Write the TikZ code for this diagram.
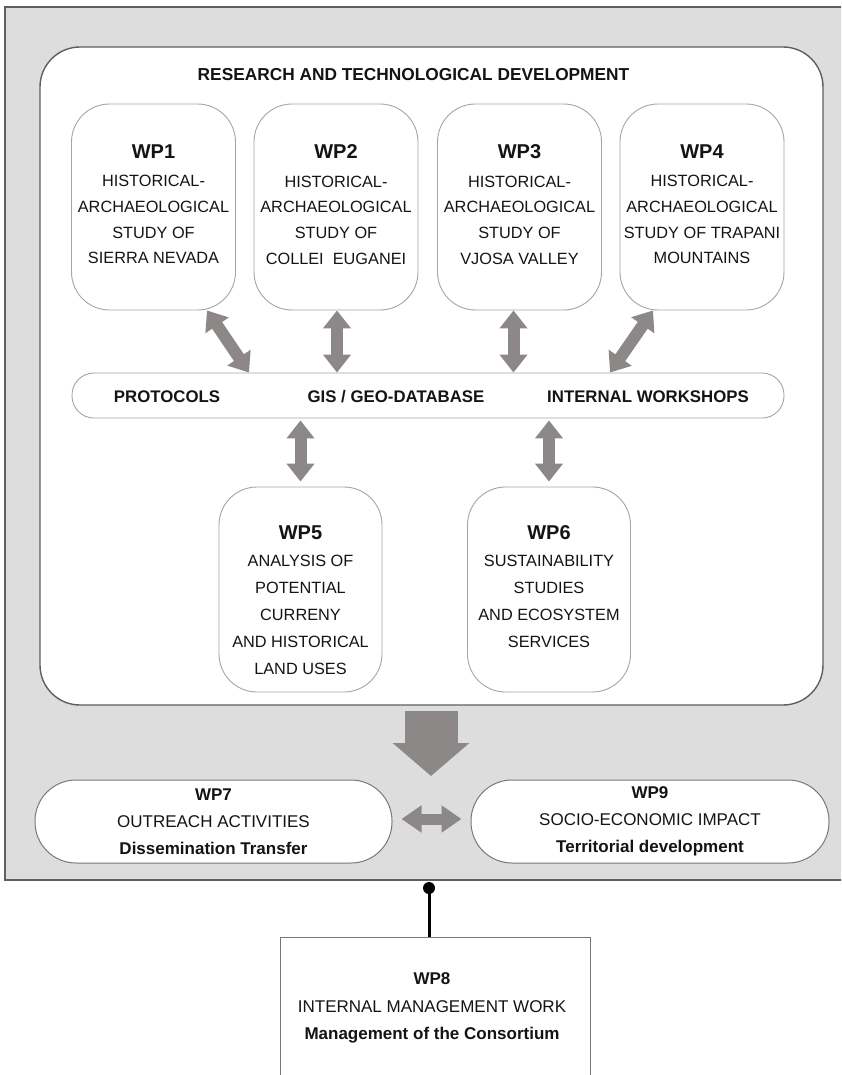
\documentclass[tikz,border=0pt]{standalone}
\usepackage{fontspec}
\setmainfont{Liberation Sans}
\usetikzlibrary{arrows.meta,calc}
\definecolor{panelgray}{RGB}{220,221,220}
\definecolor{framegray}{RGB}{95,95,95}
\definecolor{arrowgray}{RGB}{141,136,136}
\definecolor{boxline}{RGB}{165,165,165}
\definecolor{pillline}{RGB}{120,120,120}
\definecolor{inkblack}{RGB}{20,20,20}
\newcommand\wplabelfont{\fontsize{20}{26}\selectfont\bfseries}
\begin{document}
\begin{tikzpicture}[x=1pt,y=-1pt,
  wpbox/.style={draw=boxline, line width=0.9pt, fill=white, rounded corners=38pt,
    minimum width=164pt, inner sep=0pt},
  wptext/.style={align=center, inner sep=0pt, text=inkblack, anchor=north,
    font=\fontsize{16.3}{25.7}\selectfont},
  wptextlow/.style={wptext, font=\fontsize{16.3}{27}\selectfont},
  bartext/.style={inner sep=0pt, text=inkblack, font=\fontsize{16.8}{20}\selectfont\bfseries},
  pill/.style={draw=pillline, line width=1pt, fill=white, rounded corners=41pt,
    minimum width=357pt, minimum height=83pt, align=center, inner sep=0pt,
    text=inkblack, font=\fontsize{17}{27}\selectfont},
  fat/.style={draw=arrowgray, line width=12pt,
    {Triangle[length=18pt,width=27pt]}-{Triangle[length=18pt,width=27pt]}},
]
\useasboundingbox (0,0) rectangle (841,1075);
\clip (0,0) rectangle (841,1075);

% grey project panel
\path[fill=panelgray, draw=framegray, line width=1.5pt] (5,7) rectangle (870,880);

% research block
\node[draw=framegray, line width=1.4pt, fill=white, rounded corners=40pt,
  minimum width=783pt, minimum height=658pt, inner sep=0pt] (rtd) at (431.5,376) {};
\node[inner sep=0pt, text=inkblack, font=\fontsize{17.3}{20}\selectfont\bfseries]
  (title) at (413.5,75) {RESEARCH AND TECHNOLOGICAL DEVELOPMENT};

% case-study work packages
\node[wpbox, minimum height=206pt] (b1) at (153.5,207) {};
\node[wpbox, minimum height=206pt] (b2) at (336,207) {};
\node[wpbox, minimum height=206pt] (b3) at (519.5,207) {};
\node[wpbox, minimum height=206pt] (b4) at (702,207) {};
\node[wptext] (t1) at ($(b1.north)+(0,41)$)
  {{\wplabelfont WP1}\\[2.6pt] HISTORICAL-\\ ARCHAEOLOGICAL\\ STUDY OF\\ SIERRA NEVADA};
\node[wptext] (t2) at ($(b2.north)+(0,41)$)
  {{\wplabelfont WP2}\\[2.6pt] HISTORICAL-\\ ARCHAEOLOGICAL\\ STUDY OF\\ COLLEI\ \ EUGANEI};
\node[wptext] (t3) at ($(b3.north)+(0,41)$)
  {{\wplabelfont WP3}\\[2.6pt] HISTORICAL-\\ ARCHAEOLOGICAL\\ STUDY OF\\ VJOSA VALLEY};
\node[wptext] (t4) at ($(b4.north)+(0,41)$)
  {{\wplabelfont WP4}\\[2.6pt] HISTORICAL-\\ ARCHAEOLOGICAL\\ STUDY OF TRAPANI\\ MOUNTAINS};

% shared tools bar
\node[draw=boxline, line width=0.9pt, fill=white, rounded corners=22pt,
  minimum width=712pt, minimum height=45pt, inner sep=0pt] (bar) at (428,395.5) {};
\node[bartext] (proto) at (167,397) {PROTOCOLS};
\node[bartext] (gis) at (396,397) {GIS / GEO-DATABASE};
\node[bartext] (work) at (648,397) {INTERNAL WORKSHOPS};

% analysis work packages
\node[wpbox, minimum width=163pt, minimum height=205pt] (b5) at (300.5,589.5) {};
\node[wpbox, minimum width=163pt, minimum height=205pt] (b6) at (549,589.5) {};
\node[wptextlow] (t5) at ($(b5.north)+(0,39)$)
  {{\wplabelfont WP5}\\ ANALYSIS OF\\ POTENTIAL\\ CURRENY\\ AND HISTORICAL\\ LAND USES};
\node[wptextlow] (t6) at ($(b6.north)+(0,39)$)
  {{\wplabelfont WP6}\\ SUSTAINABILITY\\ STUDIES\\ AND ECOSYSTEM\\ SERVICES};

% exchanges between packages and the bar
\draw[fat] ($(b1.south)+(53.5,0)$) -- ($(bar.north)+(-179,0)$);
\draw[fat] ($(b2.south)+(1,0)$) coordinate (a2) -- (a2 |- bar.north);
\draw[fat] ($(b3.south)+(-6,0)$) coordinate (a3) -- (a3 |- bar.north);
\draw[fat] ($(b4.south)+(-49,0)$) -- ($(bar.north)+(182,0)$);
\draw[fat, shorten <=2pt, shorten >=5pt] (b5.north |- bar.south) -- (b5.north);
\draw[fat, shorten <=2pt, shorten >=5pt] (b6.north |- bar.south) -- (b6.north);

% results flow down
\coordinate (bigtip) at (431,776);
\draw[draw=arrowgray, line width=53pt, -{Triangle[length=33pt,width=75pt]}]
  ($(rtd.south)+(-0.5,5)$) -- (bigtip);

% outreach and impact
\node[pill] (wp7) at (213.5,821.5)
  {\bfseries WP7\\ OUTREACH ACTIVITIES\\ \bfseries Dissemination Transfer};
\node[pill, minimum width=358pt] (wp9) at (650,821.5)
  {\bfseries WP9\\ SOCIO-ECONOMIC IMPACT\\ \bfseries Territorial development};
\draw[fat, line width=11pt, shorten <=9pt, shorten >=9pt,
  {Triangle[length=20pt,width=26pt]}-{Triangle[length=20pt,width=26pt]}]
  ($(wp7.east)+(0,-2.5)$) -- ($(wp9.west)+(0,-2.5)$);

% management
\node[draw=pillline, line width=1pt, fill=white, minimum width=310pt,
  minimum height=170pt, inner sep=0pt] (wp8) at (435,1022) {};
\node[align=center, inner sep=0pt, text=inkblack, anchor=north,
  font=\fontsize{17}{27.5}\selectfont] (t8) at ($(wp8.north)+(-3,36)$)
  {\bfseries WP8\\ INTERNAL MANAGEMENT WORK\\ \bfseries Management of the Consortium};
\node[circle, fill=black, inner sep=0pt, minimum size=12pt] (dot) at (429,888) {};
\draw[black, line width=3pt] (dot.center) -- (dot.center |- wp8.north);
\end{tikzpicture}
\end{document}
